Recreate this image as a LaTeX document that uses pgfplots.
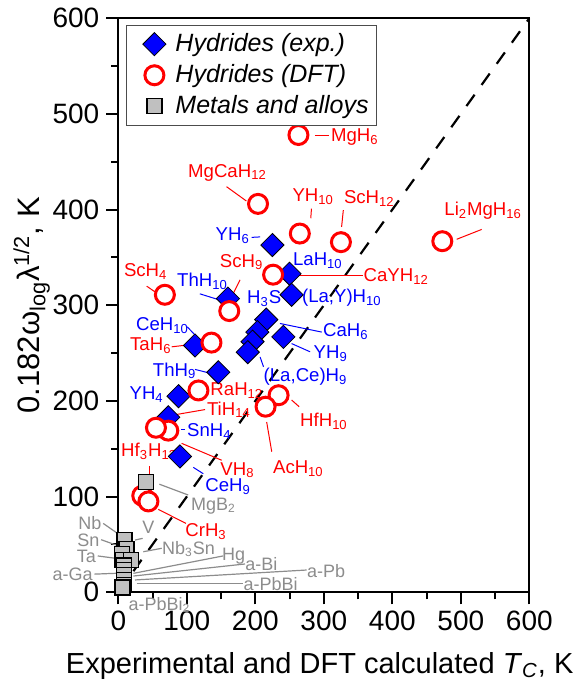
\documentclass[border=0pt]{standalone}
\usepackage{fontspec}
\setmainfont{Liberation Sans}
\usepackage{pgfplots}
\pgfplotsset{compat=1.18}

\definecolor{hblue}{RGB}{0,0,255}
\definecolor{hred}{RGB}{255,0,0}
\definecolor{mgrey}{RGB}{140,140,140}
\definecolor{mfill}{RGB}{192,192,192}

\newcommand\lf{\fontsize{9.3}{10}\selectfont}
\newcommand\gf{\fontsize{9}{10}\selectfont}

\pgfplotsset{
  myleg/.style={legend image code/.code={%
    \path[draw=none] (0cm,0cm) -- (0.72cm,0cm);
    \path[##1, draw=none] plot coordinates {(0.42cm,0cm)};}}
}

\begin{document}
\begin{tikzpicture}
\begin{axis}[
  at={(0,0)}, anchor=south west,
  scale only axis,
  width=205.5pt, height=287pt,
  xmin=0, xmax=600, ymin=0, ymax=600,
  xtick={0,100,...,600}, ytick={0,100,...,600},
  minor x tick num=1, minor y tick num=1,
  xtick pos=left, ytick pos=left,
  tick align=outside,
  major tick length=6pt, minor tick length=3.5pt,
  every tick/.style={black, line width=1pt},
  axis line style={line width=1pt},
  tick label style={font=\fontsize{14}{15}\selectfont},
  /pgf/number format/assume math mode=true,
  xlabel={Experimental and DFT calculated \textit{T}\textsubscript{\textit{C}}, K},
  ylabel={0.182ω\textsubscript{log}λ\textsuperscript{1/2}, K},
  xlabel style={font=\fontsize{14.5}{16}\selectfont, at={(axis description cs:0.49,-0.128)}, anchor=center},
  ylabel style={font=\fontsize{15.5}{16}\selectfont, at={(axis description cs:-0.211,0.5)}, anchor=center},
  clip=false,
  legend style={at={(0.019,0.988)}, anchor=north west, draw=black!70, fill=white,
    font=\itshape\fontsize{12.5}{14}\selectfont, row sep=1pt, inner xsep=2pt, inner ysep=2pt},
  legend cell align=left,
]
% experimental hydrides
\addplot[only marks, mark=square*, mark size=4.1pt,
  mark options={rotate=45, fill=hblue, draw=none}, myleg] coordinates {
  (225,363) (250,333) (253,311) (216,285) (203,272) (196,262) (189,251)
  (241,267) (160,307) (112,258) (146,230) (88,205) (73,183) (90,142)
};
% DFT hydrides
\addplot[only marks, mark=*, mark size=4.75pt,
  mark options={fill=white, draw=hred, line width=1.5pt}, myleg] coordinates {
  (263,478) (204,406) (265,375) (325,366) (473,367) (226,332) (162,294)
  (68,311) (136,261) (117,211) (234,206) (215,194) (73,169) (55,172)
  (35,101) (44,95)
};
% metals and alloys
\addplot[only marks, mark=square*, mark size=3.75pt,
  mark options={fill=mfill, draw=black, line width=0.6pt}, myleg] coordinates {
  (40,115) (9,55) (12,45) (5,40) (6,34) (18,34) (8,28) (8,23) (8,18)
  (8,13) (8,8) (6,5)
};
\legend{Hydrides (exp.), Hydrides (DFT), Metals and alloys}
% y = x
\addplot[forget plot, black, line width=1.1pt, dash pattern=on 7pt off 6pt]
  coordinates {(0,0) (600,600)};

% red labels
\begin{scope}[hred, line width=0.5pt]
\draw (287,478) -- (308,478);
\draw (158,424) -- (187,409);
\draw (282,401) -- (281,391);
\draw (328.5,399.5) -- (326,382);
\draw (494,369) -- (530.5,379.3);
\draw (243,331) -- (357,331);
\draw (177.7,326.6) -- (165.5,309);
\draw (41.5,320) -- (53.6,314);
\draw (78,256.6) -- (119,260);
\draw (78,185) -- (126.6,191);
\draw (92.5,155.7) -- (151,138);
\draw (45,132) -- (45,122.6);
\draw (253,201) -- (264,194);
\draw (216.6,178) -- (224,147);
\draw (58.4,86.7) -- (98.8,72);
\end{scope}
\begin{scope}[every node/.style={hred, inner sep=0, font=\lf}]
\node[anchor=base west] at (310,471) {MgH\textsubscript{6}};
\node[anchor=base] at (159.4,434) {MgCaH\textsubscript{12}};
\node[anchor=base] at (284.5,408) {YH\textsubscript{10}};
\node[anchor=base] at (366.5,406.4) {ScH\textsubscript{12}};
\node[anchor=base west] at (475.5,394) {Li\textsubscript{2}MgH\textsubscript{16}};
\node[anchor=base west] at (357.7,324.6) {CaYH\textsubscript{12}};
\node[anchor=base] at (180,340) {ScH\textsubscript{9}};
\node[anchor=base] at (40,330) {ScH\textsubscript{4}};
\node[anchor=base] at (47.5,253) {TaH\textsubscript{6}};
\node[anchor=base west] at (134,206) {RaH\textsubscript{12}};
\node[anchor=base west] at (129,185.3) {TiH\textsubscript{14}};
\node[anchor=base west] at (148.5,122.6) {VH\textsubscript{8}};
\node[anchor=base] at (45,141.7) {Hf\textsubscript{3}H\textsubscript{13}};
\node[anchor=base west] at (265,173) {HfH\textsubscript{10}};
\node[anchor=base west] at (225.4,124.2) {AcH\textsubscript{10}};
\node[anchor=base west] at (97.4,58) {CrH\textsubscript{3}};
\end{scope}

% blue labels
\begin{scope}[hblue, line width=0.5pt]
\draw (194.7,371) -- (207,371.5);
\draw (119,312) -- (148.5,305.4);
\draw (100.7,277.5) -- (114.5,267);
\draw (236,281) -- (297,272);
\draw (253,260) -- (280,251.4);
\draw (207,246) -- (212,235.7);
\draw (112,233) -- (134,229);
\draw (92,170) -- (98,170);
\draw (109.5,130.6) -- (124,124);
\end{scope}
\begin{scope}[every node/.style={hblue, inner sep=0, font=\lf}]
\node[anchor=base east] at (192.6,368) {YH\textsubscript{6}};
\node[anchor=base west] at (254.6,341.6) {LaH\textsubscript{10}};
\node[anchor=base west] at (267.7,303) {(La,Y)H\textsubscript{10}};
\node[anchor=base] at (213,302) {H\textsubscript{3}S};
\node[anchor=base] at (123,319.6) {ThH\textsubscript{10}};
\node[anchor=base] at (64.5,274) {CeH\textsubscript{10}};
\node[anchor=base west] at (298.4,267) {CaH\textsubscript{6}};
\node[anchor=base west] at (284.7,244.4) {YH\textsubscript{9}};
\node[anchor=base west] at (211.7,220) {(La,Ce)H\textsubscript{9}};
\node[anchor=base east] at (114.5,226) {ThH\textsubscript{9}};
\node[anchor=base] at (41.4,201.6) {YH\textsubscript{4}};
\node[anchor=base west] at (100,162.6) {SnH\textsubscript{4}};
\node[anchor=base west] at (126.6,105) {CeH\textsubscript{9}};
\end{scope}

% grey labels
\begin{scope}[mgrey, line width=0.6pt]
\draw (60,113) -- (102,101.7);
\draw (24.4,54.6) -- (35.6,56.4);
\draw (36.5,42.4) -- (63.4,46);
\draw (22,19.8) -- (153,38);
\draw (22,17) -- (185,29.6);
\draw (24.4,12.9) -- (275,23.3);
\draw (26.9,9.4) -- (182.5,9.4);
\draw (-22,72) -- (2,60);
\draw (-25,55) -- (2,48);
\draw (-30,38) -- (2,35);
\draw (-35,19) -- (2,20);
\end{scope}
\begin{scope}[every node/.style={mgrey, inner sep=0, font=\gf}]
\node[anchor=base west] at (105.7,86) {MgB\textsubscript{2}};
\node[anchor=base] at (43.8,61.5) {V};
\node[anchor=base west] at (63.4,40) {Nb\textsubscript{3}Sn};
\node[anchor=base west] at (151,33.7) {Hg};
\node[anchor=base west] at (185,22.6) {a-Bi};
\node[anchor=base west] at (275,15.6) {a-Pb};
\node[anchor=base west] at (182.5,1.7) {a-PbBi};
\node[anchor=base west] at (14.6,-19) {a-PbBi\textsubscript{2}};
\node[anchor=base east] at (-24,66) {Nb};
\node[anchor=base east] at (-27,48) {Sn};
\node[anchor=base east] at (-32,31) {Ta};
\node[anchor=base east] at (-37,12) {a-Ga};
\end{scope}
\end{axis}
\pgfresetboundingbox
\path (-59.15pt,-46.85pt) rectangle (232.85pt,296.15pt);
\end{tikzpicture}
\end{document}
